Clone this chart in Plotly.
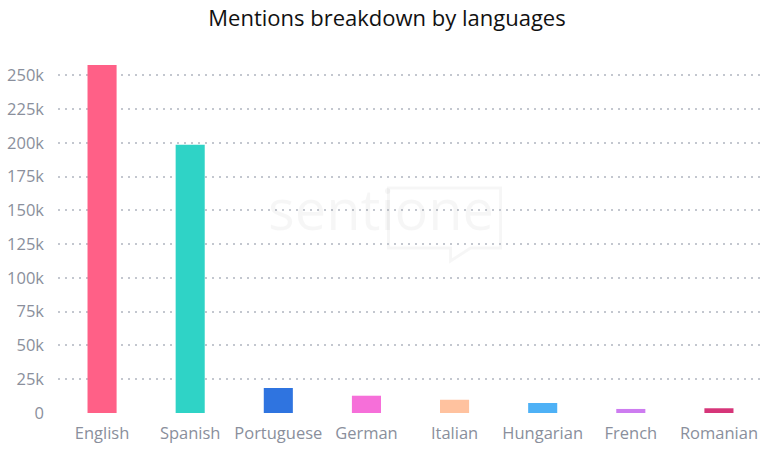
import plotly.graph_objects as go

languages = ["English", "Spanish", "Portuguese", "German", "Italian", "Hungarian", "French", "Romanian"]
mentions = [257500, 198500, 18500, 12800, 9800, 7400, 3000, 3500]
colors = ["#ff6087", "#2fd3c6", "#2f74e0", "#f66fd9", "#ffc29f", "#4eb1f6", "#cd7cf0", "#d63579"]
tick_vals = [0, 25000, 50000, 75000, 100000, 125000, 150000, 175000, 200000, 225000, 250000]
tick_text = ["0", "25k", "50k", "75k", "100k", "125k", "150k", "175k", "200k", "225k", "250k"]

# faint watermark logo outline (paper coordinates)
W, H, L, B = 704.0, 354.0, 58.0, 413.0
def px(x, y):
    return f"{(x - L) / W:.4f},{(B - y) / H:.4f}"
logo_path = ("M " + px(450, 248) + " L " + px(388, 248) + " L " + px(388, 188) + " L " + px(500, 188)
             + " L " + px(500, 248) + " L " + px(470, 248) + " L " + px(450, 261) + " Z")

fig = go.Figure(go.Bar(x=languages, y=mentions, marker=dict(color=colors, line=dict(width=0)),
                       hoverinfo="x+y"))

fig.update_layout(
    width=774, height=450,
    paper_bgcolor="white", plot_bgcolor="white",
    margin=dict(l=58, r=11, t=59, b=37),
    title=dict(text="Mentions breakdown by languages", x=0.5, xanchor="center",
               y=1 - 18 / 450, yanchor="middle",
               font=dict(family="Open Sans", size=22, color="#111111")),
    bargap=0.67,
    showlegend=False,
    font=dict(family="Open Sans", color="#8a8f9c", size=16),
    annotations=[dict(text="sentione", x=(381 - L) / W, y=(B - 208) / H, xref="paper", yref="paper",
                      showarrow=False,
                      font=dict(family="Open Sans", size=56, color="rgba(0,0,0,0.035)"))],
    shapes=[dict(type="path", path=logo_path, xref="paper", yref="paper", layer="below",
                 line=dict(color="rgba(0,0,0,0.035)", width=3))],
)
fig.update_xaxes(showgrid=False, showline=False, zeroline=False, ticks="", ticklabelstandoff=8,
                 automargin=False,
                 tickfont=dict(family="Open Sans", size=16.5, color="#8a8f9c"))
fig.update_yaxes(range=[0, 262000], tickvals=tick_vals, ticktext=tick_text,
                 showgrid=True, gridcolor="#c3c7cf", griddash="2px,5px", gridwidth=1.5,
                 zeroline=False, showline=False, ticks="", ticklabelstandoff=13,
                 automargin=False,
                 tickfont=dict(family="Open Sans", size=16.5, color="#8a8f9c"))

fig.write_html("out.html", config={"displayModeBar": False},
               post_script="document.body.style.margin='0';")
